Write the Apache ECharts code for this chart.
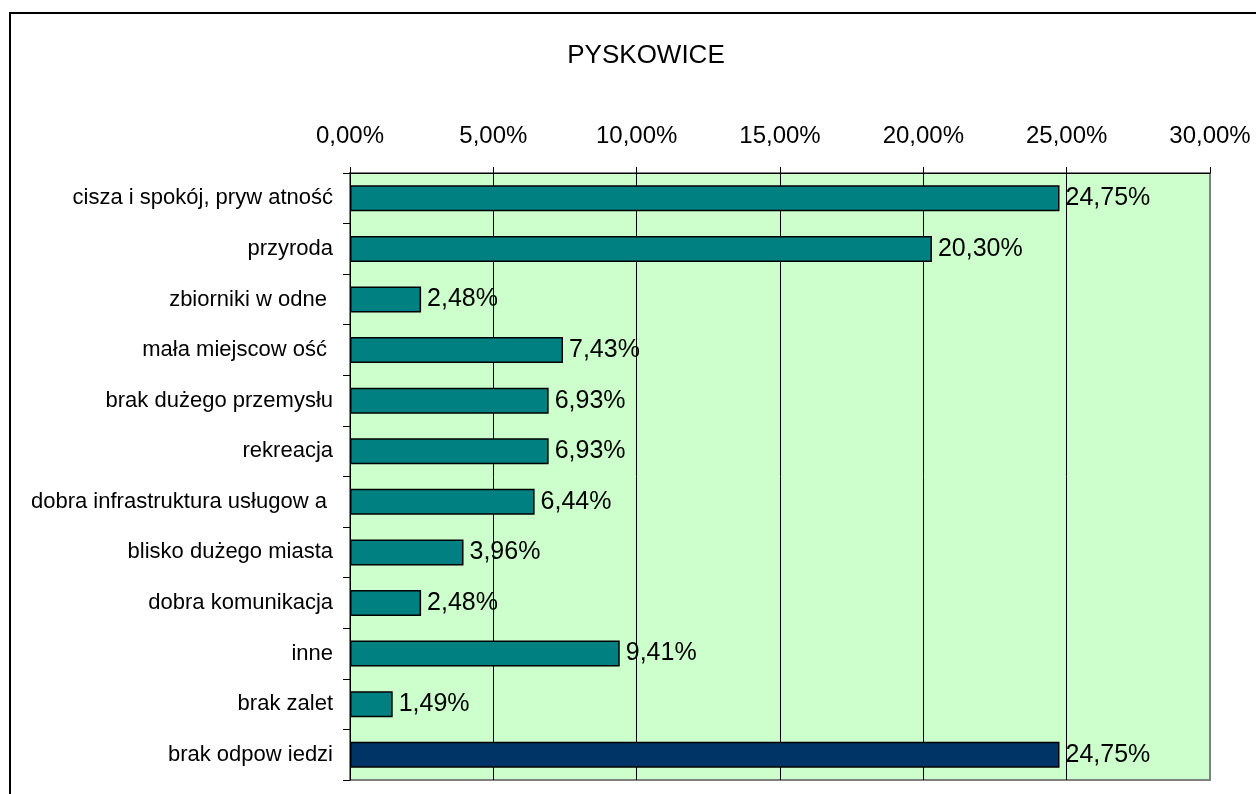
<!DOCTYPE html>
<html>
<head>
<meta charset="utf-8">
<script src="https://cdn.jsdelivr.net/npm/echarts@6/dist/echarts.min.js"></script>
<style>
  html, body { margin: 0; padding: 0; background: #fff; }
  #chart { width: 1256px; height: 794px; }
</style>
</head>
<body>
<div id="chart"></div>
<script>
// dane wykresu
const categories = [
    'cisza i spokój, pryw atność',
    'przyroda',
    'zbiorniki w odne ',
    'mała miejscow ość ',
    'brak dużego przemysłu',
    'rekreacja',
    'dobra infrastruktura usługow a ',
    'blisko dużego miasta',
    'dobra komunikacja',
    'inne',
    'brak zalet',
    'brak odpow iedzi'
];
const values = [24.75, 20.30, 2.48, 7.43, 6.93, 6.93, 6.44, 3.96, 2.48, 9.41, 1.49, 24.75];
const xMin = 0, xMax = 30, xStep = 5;
const chartTitle = 'PYSKOWICE';

const font = '"Liberation Sans", Arial, sans-serif';
const pct = (v) => v.toFixed(2).replace('.', ',') + '%';

const chart = echarts.init(document.getElementById('chart'));

chart.setOption({
    animation: false,
    backgroundColor: '#ffffff',
    title: {
        text: chartTitle,
        left: 641,
        top: 38,
        textAlign: 'center',
        textStyle: { fontFamily: font, fontSize: 26, fontWeight: 'normal', color: '#000' }
    },
    graphic: [{
        type: 'rect',
        shape: { x: 10, y: 13, width: 1300, height: 900 },
        style: { fill: 'none', stroke: '#000', lineWidth: 2 },
        z: 100
    }],
    grid: {
        left: 350,
        right: 46,
        top: 173,
        bottom: 14,
        show: true,
        backgroundColor: '#CCFFCC',
        borderColor: '#808080',
        borderWidth: 2
    },
    xAxis: {
        type: 'value',
        position: 'top',
        min: xMin,
        max: xMax,
        interval: xStep,
        axisLine: { show: true, lineStyle: { color: '#000', width: 1 } },
        axisTick: { show: true, length: 6, lineStyle: { color: '#000' } },
        axisLabel: {
            margin: 25,
            fontFamily: font,
            fontSize: 24,
            color: '#000',
            formatter: pct
        },
        splitLine: {
            show: true,
            lineStyle: { color: ['#000', '#000', '#000', '#000', '#000', '#000', '#808080'], width: 1 }
        }
    },
    yAxis: {
        type: 'category',
        inverse: true,
        data: categories,
        axisLine: { show: true, lineStyle: { color: '#000', width: 1 } },
        axisTick: { show: true, length: 7, alignWithLabel: false, lineStyle: { color: '#000' } },
        axisLabel: {
            margin: 17,
            fontFamily: font,
            fontSize: 22,
            color: '#000'
        }
    },
    series: [{
        type: 'bar',
        barWidth: 26,
        data: values.map((v, i) => ({
            value: v,
            itemStyle: { color: i === values.length - 1 ? '#003366' : '#008080' }
        })),
        itemStyle: { borderColor: '#000', borderWidth: 1.5 },
        label: {
            show: true,
            position: 'right',
            distance: 6,
            fontFamily: font,
            fontSize: 25,
            color: '#000',
            formatter: (p) => pct(p.value)
        }
    }]
});
</script>
</body>
</html>
